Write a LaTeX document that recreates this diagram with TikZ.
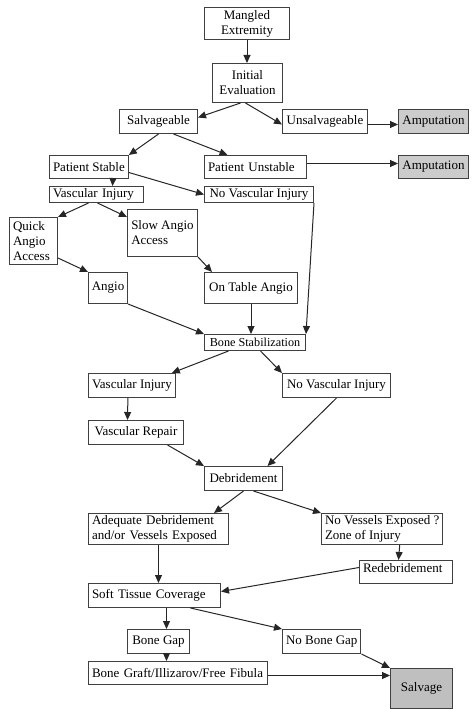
\documentclass[tikz,border=0pt]{standalone}
\usepackage{fontspec}
\setmainfont{Liberation Serif}
\usetikzlibrary{arrows.meta}
\hyphenpenalty=10000

\begin{document}
\begin{tikzpicture}[x=1pt,y=-1pt,
	every node/.style={font=\fontsize{13}{15}\selectfont},
	box/.style={draw=black!75,line width=1pt,anchor=north west,align=left,inner xsep=3.5pt,inner ysep=1pt},
	endbox/.style={box,fill=black!20,align=center},
	arr/.style={-{Triangle[length=8pt,width=7pt]},line width=1pt,black!85}]
	\useasboundingbox (0,0) rectangle (475,709);
	
	\node[box,minimum width=85,minimum height=32,align=center] (mangled) at (204,7) {Mangled\\Extremity};
	\node[box,minimum width=70,minimum height=39,align=center] (init) at (212,63) {Initial\\Evaluation};
	\node[box,minimum width=78,minimum height=24] (salv) at (119,109) {Salvageable};
	\node[box,minimum width=85,minimum height=24] (unsalv) at (282,109) {Unsalvageable};
	\node[endbox,minimum width=70,minimum height=24] (amp1) at (398,109) {Amputation};
	\node[box,minimum width=78,minimum height=23] (stable) at (49,155) {Patient Stable};
	\node[box,text width=95,minimum height=23] (unstable) at (204,155) {Patient Unstable};
	\node[endbox,minimum width=70,minimum height=23] (amp2) at (398,155) {Amputation};
	\node[box,text width=87,minimum height=16] (vasc1) at (49,186) {Vascular Injury};
	\node[box,minimum width=109,minimum height=16] (novasc1) at (204,186) {No Vascular Injury};
	\node[box,text width=41,minimum height=47] (quick) at (9,217) {Quick\\Angio\\Access};
	\node[box,minimum width=70,minimum height=47] (slow) at (127,209) {Slow Angio\\Access};
	\node[box,minimum width=39,minimum height=31,inner xsep=2pt] (angio) at (88,272) {Angio};
	\node[box,minimum width=93,minimum height=31] (table) at (204,272) {On Table Angio};
	\node[box,minimum width=101,minimum height=16,inner xsep=2pt,font=\fontsize{12.2}{14}\selectfont] (bone) at (204,334) {Bone Stabilization};
	\node[box,minimum width=86,minimum height=24] (vasc2) at (88,373) {Vascular Injury};
	\node[box,minimum width=108,minimum height=24] (novasc2) at (282,373) {No Vascular Injury};
	\node[box,minimum width=95,minimum height=24] (repair) at (88,420) {Vascular Repair};
	\node[box,minimum width=78,minimum height=24] (debr) at (204,466) {Debridement};
	\node[box,text width=133,minimum height=31] (adeq) at (88,513) {Adequate Debridement\\and/or Vessels Exposed};
	\node[box,minimum width=119,minimum height=31] (novess) at (321,513) {No Vessels Exposed ?\\Zone of Injury};
	\node[box,text width=86,minimum height=23,text height=9,text depth=8] (redebr) at (359,560) {Redebridement};
	\node[box,text width=125,minimum height=24] (soft) at (88,583) {Soft Tissue Coverage};
	\node[box,minimum width=62,minimum height=24] (gap) at (127,629) {Bone Gap};
	\node[box,minimum width=77,minimum height=24] (nogap) at (282,629) {No Bone Gap};
	\node[box,text width=172,minimum height=23] (graft) at (88,661) {Bone Graft/Illizarov/Free Fibula};
	\node[endbox,minimum width=62,minimum height=40,fill=black!25] (salvage) at (390,668) {Salvage};
	
	\draw[arr] (mangled.south) -- (mangled.south |- init.north);
	\draw[arr] ([xshift=-7]init.south) -- ([yshift=4]salv.east);
	\draw[arr] ([xshift=-2]init.south) -- ([yshift=-3]unsalv.west);
	\draw[arr] ([yshift=-3]unsalv.east) -- ([yshift=-3]amp1.west);
	\draw[arr] (salv.south) -- (stable.north east);
	\draw[arr] ([xshift=15]salv.south) -- ([xshift=-28]unstable.north);
	\draw[arr] ([yshift=3.5]unstable.east) -- ([yshift=3.5]amp2.west);
	\draw[arr] ([xshift=24]stable.south) -- ([xshift=16]vasc1.north);
	\draw[arr] ([yshift=-5.5]stable.east) -- (novasc1.west);
	\draw[arr] ([xshift=-8]vasc1.south) -- (quick.north east);
	\draw[arr] ([xshift=1]vasc1.south) -- ([yshift=-8]slow.north west);
	\draw[arr] ([yshift=7]quick.south east) -- (angio.north west);
	\draw[arr] (slow.south east) -- ([xshift=8]table.north west);
	\draw[arr] (angio.south east) -- (bone.north west);
	\draw[arr] (table.south) -- ([xshift=-4]bone.north);
	\draw[arr] (novasc1.south east) -- (bone.north east);
	\draw[arr] ([xshift=-26.5]bone.south) -- ([xshift=-4]vasc2.north east);
	\draw[arr] ([xshift=5.5]bone.south) -- (novasc2.north west);
	\draw[arr] ([xshift=-4]vasc2.south) -- ([xshift=-8.5]repair.north);
	\draw[arr] ([xshift=31.5]repair.south) -- (debr.north west);
	\draw[arr] (novasc2.south) -- ([xshift=24]debr.north);
	\draw[arr] (debr.south) -- ([xshift=-15]adeq.north east);
	\draw[arr] ([xshift=10]debr.south) -- (novess.north west);
	\draw[arr] ([xshift=17.5]novess.south) -- ([xshift=-7.5]redebr.north);
	\draw[arr] (adeq.south) -- ([xshift=4]soft.north);
	\draw[arr] ([yshift=4.5]redebr.west) -- ([yshift=4]soft.east);
	\draw[arr] ([xshift=12]soft.south) -- ([xshift=8]gap.north);
	\draw[arr] ([xshift=36]soft.south) -- (nogap.north west);
	\draw[arr] ([xshift=8]gap.south) -- ([xshift=-11.5]graft.north);
	\draw[arr] (nogap.south east) -- (salvage.north west);
	\draw[arr] ([yshift=-2.5]graft.east) -- ([yshift=13]salvage.west);
\end{tikzpicture}
\end{document}
